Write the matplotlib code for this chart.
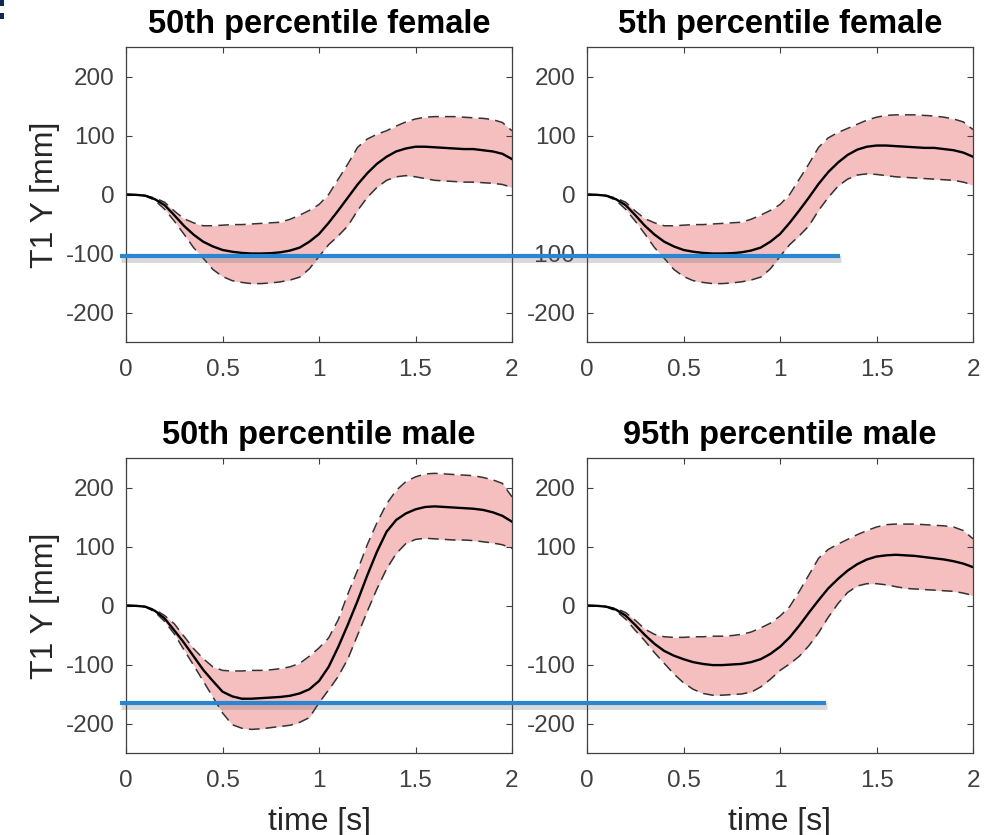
import numpy as np
import matplotlib
matplotlib.use('Agg')
import matplotlib.pyplot as plt
import matplotlib.patheffects as pe
from matplotlib.transforms import blended_transform_factory
from matplotlib.patches import Rectangle

plt.rcParams['font.family'] = ['Liberation Sans', 'DejaVu Sans']
plt.rcParams['axes.unicode_minus'] = False

# time samples (s)
time_s = np.linspace(0, 2, 41)

titles = ['50th percentile female', '5th percentile female',
          '50th percentile male', '95th percentile male']

# T1 Y displacement [mm]: mean and dashed bounds, one list per panel
f50_mean = [0, -0.5, -2, -8, -18, -35, -53, -68, -80, -88, -94, -97, -99, -100, -100, -99.5,
            -98, -95, -90, -80, -67, -48, -27, -5, 17, 36, 52, 64, 73, 78, 81, 81, 80, 79,
            78, 77, 77, 75, 73, 69, 60]
f50_upper = [0, -0.5, -2, -6, -13, -28, -41, -48, -53, -53, -52, -51, -51, -50, -49, -48,
             -47, -42, -35, -27, -17, 0, 26, 52, 80, 94, 102, 108, 116, 123, 128, 131, 132,
             132, 132, 131, 130, 129, 127, 122, 108]
f50_lower = [0, -0.5, -2, -10, -25, -45, -67, -90, -108, -127, -139, -146, -149, -151, -151,
             -150, -148, -145, -140, -126, -105, -85, -70, -53, -27, -5, 12, 24, 30, 32, 30,
             27, 24, 23, 22, 21, 21, 20, 19, 17, 12]

f5_mean = [0, -0.5, -2, -8, -18, -35, -53, -68, -80, -88, -94, -97, -99, -100, -100, -99.5,
           -98, -95, -90, -80, -67, -48, -27, -5, 18, 38, 54, 67, 76, 81, 83, 83, 82, 81,
           80, 79, 79, 77, 75, 71, 64]
f5_upper = [0, -0.5, -2, -6, -13, -28, -41, -48, -53, -53, -52, -51, -51, -50, -49, -48,
            -47, -42, -35, -27, -17, 0, 26, 52, 80, 96, 105, 112, 119, 126, 131, 134, 135,
            135, 135, 134, 133, 131, 128, 123, 110]
f5_lower = [0, -0.5, -2, -10, -25, -45, -67, -90, -108, -127, -139, -146, -149, -151, -151,
            -150, -148, -145, -140, -126, -105, -85, -70, -53, -27, -5, 14, 26, 33, 35, 34,
            32, 30, 29, 28, 27, 26, 25, 24, 21, 16]

m50_mean = [0, -0.5, -2, -9, -22, -42, -63, -86, -109, -128, -146, -154, -158, -158, -157,
            -156, -155, -153, -149, -142, -128, -104, -70, -32, 8, 51, 91, 125, 145, 156,
            163, 167, 168, 167, 166, 165, 164, 162, 158, 152, 142]
m50_upper = [0, -0.5, -2, -7, -17, -31, -52, -73, -90, -104, -110, -111, -111, -110, -110,
             -109, -107, -104, -98, -86, -72, -55, -24, 20, 60, 103, 140, 172, 195, 210, 218,
             223, 224, 223, 222, 221, 220, 217, 213, 207, 184]
m50_lower = [0, -0.5, -2, -11, -27, -48, -75, -101, -128, -155, -182, -202, -208, -210, -209,
             -207, -205, -203, -198, -190, -165, -143, -120, -90, -50, -10, 28, 62, 88, 105,
             112, 114, 113, 112, 111, 111, 110, 108, 106, 103, 97]

m95_mean = [0, -0.5, -2, -7, -17, -33, -50, -65, -77, -85, -91, -96, -99, -101, -101, -100,
            -99, -96, -91, -82, -70, -54, -34, -12, 9, 29, 45, 59, 70, 78, 83, 85, 86, 85,
            84, 82, 80, 78, 75, 71, 65]
m95_upper = [0, -0.5, -2, -5, -12, -25, -40, -49, -53, -54, -54, -53, -53, -52, -52, -51,
             -49, -45, -38, -30, -18, -2, 24, 52, 80, 95, 104, 112, 120, 127, 133, 137, 138,
             138, 138, 137, 136, 135, 133, 127, 113]
m95_lower = [0, -0.5, -2, -9, -23, -42, -60, -80, -98, -116, -131, -142, -149, -152, -152,
             -151, -150, -147, -138, -125, -110, -99, -86, -68, -46, -20, 3, 22, 33, 37, 37,
             35, 32, 29, 28, 27, 26, 25, 24, 21, 17]

means = [f50_mean, f5_mean, m50_mean, m95_mean]
uppers = [f50_upper, f5_upper, m50_upper, m95_upper]
lowers = [f50_lower, f5_lower, m50_lower, m95_lower]

# horizontal reference marks drawn over the figure (mm, in left-column axes units)
ref_levels = [-105, -166]
ref_x_end = [840, 826]

W, H = 986, 835
fig = plt.figure(figsize=(W / 100, H / 100), dpi=100)

# axes boxes in pixels: left, top, right, bottom
boxes = [(126, 47, 512, 342), (587, 47, 973, 342),
         (126, 458, 512, 753), (587, 458, 973, 753)]

axes = []
for i, (l, t, r, b) in enumerate(boxes):
    ax = fig.add_axes([l / W, 1 - b / H, (r - l) / W, (b - t) / H])
    m = np.array(means[i])
    up = np.array(uppers[i])
    lo = np.array(lowers[i])
    ax.fill_between(time_s, lo, up, color='#f5bfc0', lw=0)
    ax.plot(time_s, up, color='#333333', lw=1.1, dashes=(7, 4))
    ax.plot(time_s, lo, color='#333333', lw=1.1, dashes=(7, 4))
    ax.plot(time_s, m, color='black', lw=1.7)
    ax.set_xlim(0, 2)
    ax.set_ylim(-250, 250)
    ax.set_xticks([0, 0.5, 1, 1.5, 2])
    ax.set_xticklabels(['0', '0.5', '1', '1.5', '2'])
    ax.set_yticks([-200, -100, 0, 100, 200])
    ax.tick_params(direction='in', length=4, width=0.8, top=True, right=True,
                   labelsize=17.5, labelcolor='#404040', color='#404040')
    ax.tick_params(axis='x', pad=12)
    ax.tick_params(axis='y', pad=8)
    for s in ax.spines.values():
        s.set_color('#404040')
        s.set_linewidth(0.9)
    ax.set_title(titles[i], fontsize=23.5, fontweight='bold', pad=10)
    if i % 2 == 0:
        ax.set_ylabel('T1 Y [mm]', fontsize=23, color='#262626', labelpad=4)
    if i >= 2:
        ax.set_xlabel('time [s]', fontsize=23, color='#262626', labelpad=11)
    axes.append(ax)

# blue reference lines with a soft shadow
for row, level in enumerate(ref_levels):
    tr = blended_transform_factory(fig.transFigure, axes[row * 2].transData)
    ln = plt.Line2D([120 / W, ref_x_end[row] / W], [level, level], transform=tr,
                    color='#2a86d1', lw=3, solid_capstyle='butt', zorder=10,
                    path_effects=[pe.SimpleLineShadow(offset=(1, -2), shadow_color='#555555',
                                                      alpha=0.22, linewidth=5),
                                  pe.Normal()])
    fig.add_artist(ln)

# small cropped mark in the top-left corner
fig.add_artist(Rectangle((0, 1 - 6 / H), 4 / W, 6 / H, transform=fig.transFigure,
                         color='#0d2b50', lw=0))
fig.add_artist(Rectangle((0, 1 - 19 / H), 4 / W, 6 / H, transform=fig.transFigure,
                         color='#0d2b50', lw=0))

fig.savefig('out.png', dpi=100)
